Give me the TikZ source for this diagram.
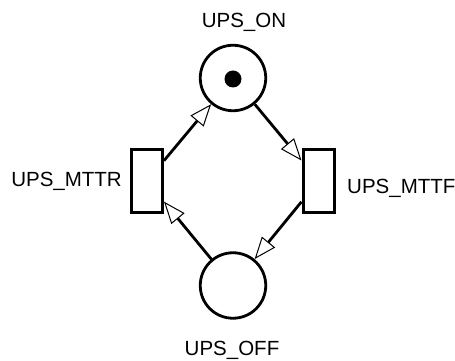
\documentclass[tikz,border=0pt]{standalone}
\usepackage{fontspec}
\setmainfont{Liberation Sans}
\usetikzlibrary{arrows.meta}
\begin{document}
\begin{tikzpicture}[x=1pt,y=1pt,
  place/.style={circle,draw,line width=2.8pt,minimum size=65.5pt,inner sep=0pt},
  trans/.style={rectangle,draw,line width=3pt,minimum width=31pt,minimum height=63pt,inner sep=0pt},
  token/.style={circle,fill,minimum size=17pt,inner sep=0pt},
  lbl/.style={font=\fontsize{20.5}{24}\selectfont,inner sep=0pt},
  arc/.style={line width=2.8pt,-{Triangle[open,length=22pt,width=17pt,line width=1pt]}}]
\useasboundingbox (0,0) rectangle (455,361);
% places and transitions
\node[place] (on) at (233,283) {};
\node[token] (tok) at (233,282) {};
\node[place] (off) at (233,75.5) {};
\node[trans] (mttr) at (147,180) {};
\node[trans] (mttf) at (318.5,180) {};
% labels
\node[lbl,anchor=base] (lon) at (244,333) {UPS\_ON};
\node[lbl,anchor=base] (loff) at (232,5) {UPS\_OFF};
\node[lbl,anchor=base east] (lmttr) at (122,174) {UPS\_MTTR};
\node[lbl,anchor=base west] (lmttf) at (347,167.5) {UPS\_MTTF};
% arcs
\draw[arc] (on) -- (mttf);
\draw[arc] (mttf) -- (off);
\draw[arc] (off) -- (mttr);
\draw[arc] (mttr) -- (on);
\end{tikzpicture}
\end{document}
